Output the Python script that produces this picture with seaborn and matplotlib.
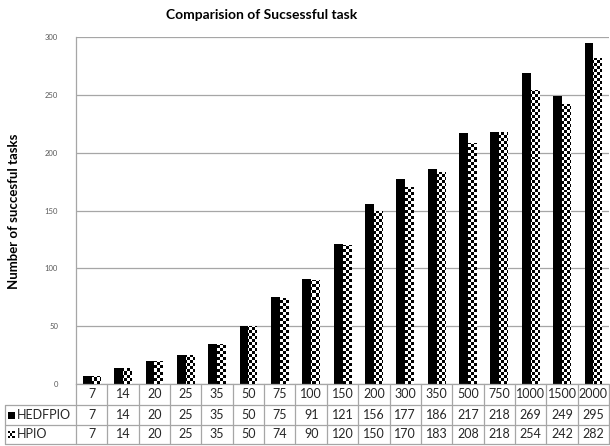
import numpy as np
import pandas as pd
import matplotlib
matplotlib.use("Agg")
import matplotlib.pyplot as plt
import matplotlib.transforms as mtransforms
from matplotlib.colors import ListedColormap
from matplotlib.lines import Line2D
from matplotlib.patches import Rectangle
import seaborn as sns

# Task counts and number of successful tasks per scheduler
tasks = ["7", "14", "20", "25", "35", "50", "75", "100", "150", "200",
         "300", "350", "500", "750", "1000", "1500", "2000"]
hedfpio = [7, 14, 20, 25, 35, 50, 75, 91, 121, 156, 177, 186, 217, 218, 269, 249, 295]
hpio = [7, 14, 20, 25, 35, 50, 74, 90, 120, 150, 170, 183, 208, 218, 254, 242, 282]
series_names = ["HEDFPIO", "HPIO"]
y_ticks = [0, 50, 100, 150, 200, 250, 300]

df = pd.DataFrame({
    "task": tasks * 2,
    "series": [series_names[0]] * len(tasks) + [series_names[1]] * len(tasks),
    "value": hedfpio + hpio,
})

sns.set_style("white")
plt.rcParams["font.family"] = ["Lato", "DejaVu Sans"]

W, H = 610, 446
fig = plt.figure(figsize=(W / 100, H / 100), dpi=100)


def fx(px):
    return px / W


def fy(py):
    return 1 - py / H


ax = fig.add_axes([fx(76), fy(384), fx(609) - fx(76), fy(37) - fy(384)])

sns.barplot(data=df, x="task", y="value", hue="series", order=tasks,
            hue_order=series_names, palette=["black", "white"], width=0.56,
            saturation=1, edgecolor="none", linewidth=0, legend=False, ax=ax)

ax.set_xlim(-0.5, len(tasks) - 0.5)
ax.set_ylim(0, 300)
ax.set_yticks(y_ticks)
ax.set_xticks([])
ax.set_xlabel("")
ax.set_ylabel("")
ax.yaxis.grid(True, color="#a6a6a6", lw=0.9)
ax.set_axisbelow(True)
ax.tick_params(axis="y", length=0, labelsize=5.5, colors="#595959", pad=13)
for s in ["top", "right"]:
    ax.spines[s].set_visible(False)
for s in ["left", "bottom"]:
    ax.spines[s].set_color("#a6a6a6")
    ax.spines[s].set_linewidth(0.9)

# Checkerboard fill for the HPIO bars
nx, ny = 178, 116
ii, jj = np.meshgrid(np.arange(nx), np.arange(ny))
checker = ((ii + jj) % 2).astype(float)
checker_cmap = ListedColormap(["white", "black"])
for patch in ax.containers[1]:
    im = ax.imshow(checker, extent=(-0.5, len(tasks) - 0.5, 0, 300), origin="lower",
                   cmap=checker_cmap, vmin=0, vmax=1, interpolation="nearest",
                   aspect="auto", zorder=3)
    im.set_clip_path(patch)
ax.set_xlim(-0.5, len(tasks) - 0.5)
ax.set_ylim(0, 300)

# Data table under the plot area
grid_c = "#a6a6a6"
text_c = "#262626"
mixed = mtransforms.blended_transform_factory(ax.transData, fig.transFigure)
rows_y = [384, 405, 425, 444]
n = len(tasks)


def hline(x0, x1, y, trans=fig.transFigure):
    fig.add_artist(Line2D([x0, x1], [fy(y), fy(y)], color=grid_c, lw=0.9, transform=trans))


def vline(x, y0, y1, trans=fig.transFigure):
    fig.add_artist(Line2D([x, x], [fy(y0), fy(y1)], color=grid_c, lw=0.9, transform=trans))


hline(-0.5, n - 0.5, rows_y[1], trans=mixed)
hline(fx(5), fx(76), rows_y[1])
hline(-0.5, n - 0.5, rows_y[2], trans=mixed)
hline(fx(5), fx(76), rows_y[2])
hline(-0.5, n - 0.5, rows_y[3], trans=mixed)
hline(fx(5), fx(76), rows_y[3])
for k in range(n + 1):
    vline(k - 0.5, rows_y[0], rows_y[3], trans=mixed)
vline(fx(5), rows_y[1], rows_y[3])

table_rows = [tasks, [str(v) for v in hedfpio], [str(v) for v in hpio]]
for r, vals in enumerate(table_rows):
    yc = (rows_y[r] + rows_y[r + 1]) / 2
    for k, v in enumerate(vals):
        fig.text(k, fy(yc), v, transform=mixed, ha="center", va="center",
                 fontsize=9, color=text_c)

# Row labels with their legend keys
for r, name in enumerate(series_names):
    yc = (rows_y[r + 1] + rows_y[r + 2]) / 2
    fig.text(fx(17), fy(yc), name, ha="left", va="center", fontsize=9, color=text_c)
key_y = (rows_y[1] + rows_y[2]) / 2
fig.add_artist(Rectangle((fx(8), fy(key_y + 3.5)), fx(7), fy(0) - fy(7),
                         transform=fig.transFigure, color="black", lw=0))
key_y2 = (rows_y[2] + rows_y[3]) / 2
cell = 2.2
for a in range(3):
    for b in range(3):
        if (a + b) % 2 == 0:
            fig.add_artist(Rectangle((fx(8 + a * cell), fy(key_y2 - 3.3 + (b + 1) * cell)),
                                     fx(cell), fy(0) - fy(cell),
                                     transform=fig.transFigure, color="black", lw=0))

fig.text(fx(262), fy(15), "Comparision of Sucsessful task", ha="center", va="center",
         fontsize=10, fontweight="bold", color="black")
fig.text(fx(14), fy(211), "Number of succesful tasks", ha="center", va="center",
         rotation=90, fontsize=9.5, fontweight="bold", color="black")

fig.savefig("out.png", dpi=100)
